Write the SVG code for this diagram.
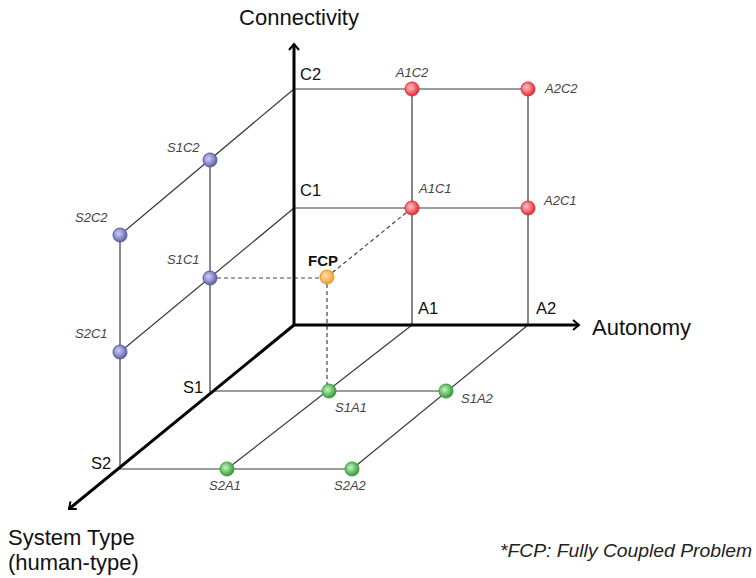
<svg xmlns="http://www.w3.org/2000/svg" width="756" height="578" viewBox="0 0 756 578">
<defs>
<style>
.grid{stroke:#3a3a3a;stroke-width:1.2;fill:none}
.axis{stroke:#000;stroke-width:3;fill:none}
.dash{stroke:#444;stroke-width:1.2;stroke-dasharray:4 3;fill:none}
.big{font-family:"Liberation Sans",Arial,sans-serif;font-size:22px;fill:#111}
.tick{font-family:"Liberation Sans",Arial,sans-serif;font-size:16.5px;fill:#111}
.pt{font-family:"Liberation Sans",Arial,sans-serif;font-size:13px;font-style:italic;fill:#444}
.note{font-family:"Liberation Sans",Arial,sans-serif;font-size:18px;font-style:italic;fill:#222}
.red{fill:url(#gR);stroke:#e03038;stroke-width:1}
.blue{fill:url(#gB);stroke:#5858a8;stroke-width:1}
.green{fill:url(#gG);stroke:#38a038;stroke-width:1}
.orange{fill:url(#gO);stroke:#f09020;stroke-width:1}
</style>
<radialGradient id="gR" cx="0.4" cy="0.4" r="0.6"><stop offset="0" stop-color="#ffc8c8"/><stop offset="1" stop-color="#e82838"/></radialGradient>
<radialGradient id="gB" cx="0.4" cy="0.4" r="0.6"><stop offset="0" stop-color="#d0d0f0"/><stop offset="1" stop-color="#6060b0"/></radialGradient>
<radialGradient id="gG" cx="0.4" cy="0.4" r="0.6"><stop offset="0" stop-color="#c8f0c8"/><stop offset="1" stop-color="#30a030"/></radialGradient>
<radialGradient id="gO" cx="0.4" cy="0.4" r="0.6"><stop offset="0" stop-color="#ffe0b0"/><stop offset="1" stop-color="#f0a030"/></radialGradient>
<marker id="arr" markerWidth="12" markerHeight="12" refX="8" refY="6" orient="auto" markerUnits="userSpaceOnUse">
<path d="M2,1 L8,6 L2,11" fill="none" stroke="#000" stroke-width="2"/>
</marker>
</defs>
<g id="connectors">
<path class="grid" d="M294,89 H528 M294,208 H528 M412,89 V325 M528,89 V325"/>
<path class="grid" d="M294,89 L120,235 M294,208 L120,352 M210,160 V392 M120,235 V469"/>
<path class="grid" d="M212,391 H446 M118,469 H352 M412,325 L227,469 M528,325 L352,469"/>
<path class="dash" d="M210,278 H327 M327,277 V391 M327,277 L412,208"/>
<path class="axis" d="M294,325 V44" marker-end="url(#arr)"/>
<path class="axis" d="M294,325 H579" marker-end="url(#arr)"/>
<path class="axis" d="M294,325 L69,509" marker-end="url(#arr)"/>
</g>
<g id="axis-labels">
<text class="big" x="299" y="25" text-anchor="middle">Connectivity</text>
<text class="big" x="592" y="335">Autonomy</text>
<text class="big" x="8" y="545">System Type</text>
<text class="big" x="8" y="570">(human-type)</text>
<text class="tick" x="300" y="80">C2</text>
<text class="tick" x="300" y="196">C1</text>
<text class="tick" x="418" y="314">A1</text>
<text class="tick" x="536" y="314">A2</text>
<text class="tick" x="183" y="393">S1</text>
<text class="tick" x="91" y="469">S2</text>
</g>
<g id="A1C2"><circle class="red" cx="412" cy="89" r="7"/><text class="pt" x="412" y="77" text-anchor="middle">A1C2</text></g>
<g id="A2C2"><circle class="red" cx="528" cy="89" r="7"/><text class="pt" x="545" y="93">A2C2</text></g>
<g id="A1C1"><circle class="red" cx="412" cy="208" r="7"/><text class="pt" x="419" y="193">A1C1</text></g>
<g id="A2C1"><circle class="red" cx="528" cy="208" r="7"/><text class="pt" x="544" y="205">A2C1</text></g>
<g id="S1C2"><circle class="blue" cx="210" cy="160" r="7"/><text class="pt" x="167" y="152">S1C2</text></g>
<g id="S2C2"><circle class="blue" cx="120" cy="235" r="7"/><text class="pt" x="75" y="222">S2C2</text></g>
<g id="S1C1"><circle class="blue" cx="210" cy="278" r="7"/><text class="pt" x="167" y="264">S1C1</text></g>
<g id="S2C1"><circle class="blue" cx="120" cy="352" r="7"/><text class="pt" x="75" y="338">S2C1</text></g>
<g id="S1A1"><circle class="green" cx="329" cy="391" r="7"/><text class="pt" x="335" y="412">S1A1</text></g>
<g id="S1A2"><circle class="green" cx="446" cy="391" r="7"/><text class="pt" x="461" y="403">S1A2</text></g>
<g id="S2A1"><circle class="green" cx="227" cy="469" r="7"/><text class="pt" x="209" y="490">S2A1</text></g>
<g id="S2A2"><circle class="green" cx="352" cy="469" r="7"/><text class="pt" x="334" y="490">S2A2</text></g>
<g id="FCP"><circle class="orange" cx="327" cy="277" r="7"/><text x="308" y="266" font-family="Liberation Sans,Arial,sans-serif" font-size="15" font-weight="bold" fill="#111">FCP</text></g>
<g id="note"><text class="note" x="500" y="557" textLength="252" lengthAdjust="spacingAndGlyphs">*FCP: Fully Coupled Problem</text></g>
</svg>
